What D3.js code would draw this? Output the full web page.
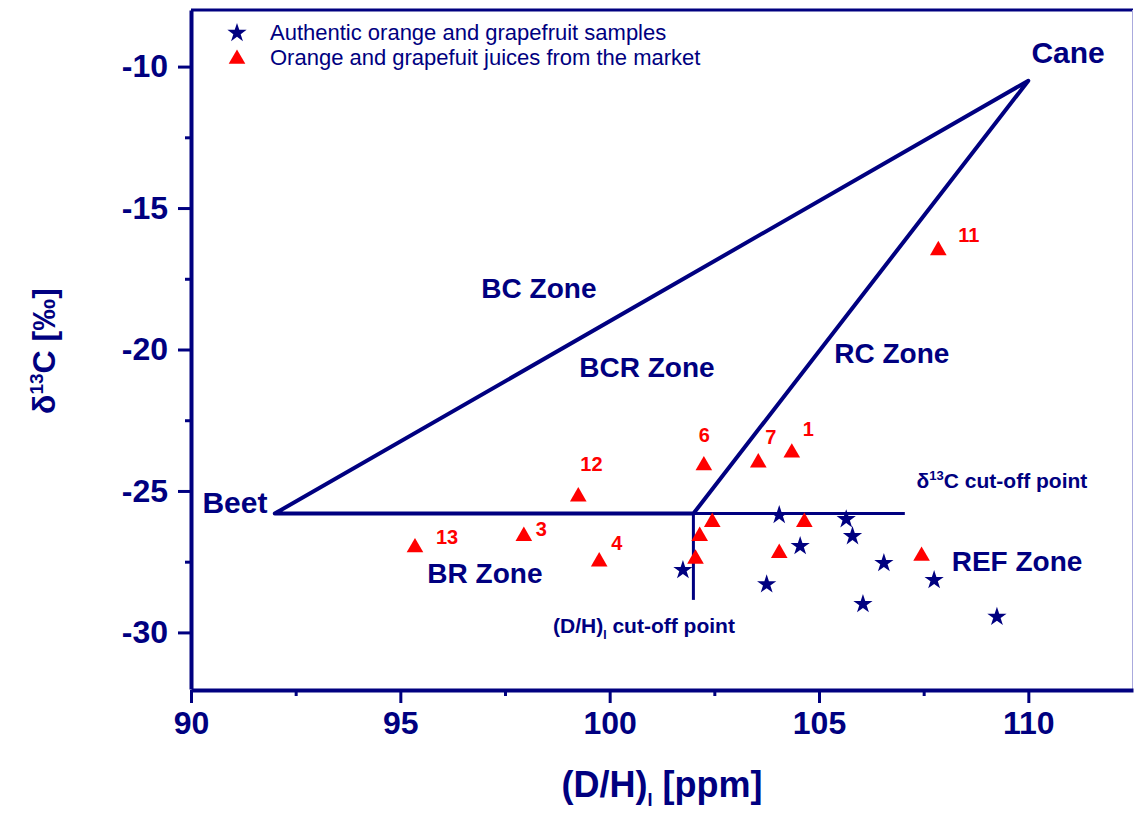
<!DOCTYPE html>
<html>
<head>
<meta charset="utf-8">
<script src="https://cdn.jsdelivr.net/npm/d3@7"></script>
<style>
  body { margin: 0; background: #fff; }
  text { font-family: "Liberation Sans", Arial, sans-serif; }
</style>
</head>
<body>
<div id="chart"></div>
<script>
// Data
var xTicks = [90, 95, 100, 105, 110];
var xMinor = [92.5, 97.5, 102.5, 107.5];
var yTicks = [-30, -25, -20, -15, -10];
var yMinor = [-27.5, -22.5, -17.5, -12.5];

// authentic samples (D/H, d13C)
var authenticX = [101.75, 103.75, 104.05, 104.55, 105.65, 105.8, 106.05, 106.55, 107.75, 109.25];
var authenticY = [-27.8, -28.3, -25.85, -26.95, -26.0, -26.6, -29.0, -27.55, -28.15, -29.45];

// market juices
var marketId = ["1", "3", "4", "6", "7", "11", "12", "13", "", "", "", "", "", ""];
var marketX = [104.35, 97.95, 99.75, 102.25, 103.55, 107.85, 99.25, 95.35, 102.45, 102.15, 102.05, 104.65, 104.05, 107.45];
var marketY = [-23.65, -26.6, -27.5, -24.1, -24.0, -16.5, -25.2, -27.0, -26.1, -26.6, -27.4, -26.1, -27.2, -27.3];

// zone triangle and cut-off lines
var beet = [92, -25.8];
var cane = [110, -10.5];
var dhCut = 102;
var cCut = -25.8;
var cCutEnd = 107.05;
var dhCutEnd = -28.85;

var zoneNames = ["Cane", "Beet", "BC Zone", "BCR Zone", "RC Zone", "BR Zone", "REF Zone"];
var zoneX = [110.95, 91.05, 98.31, 100.89, 106.74, 97.02, 109.73];
var zoneY = [-9.88, -25.77, -18.19, -20.96, -20.46, -28.25, -27.82];

var navy = "#000080", red = "#ff0000";

var W = 1134, H = 814;
var svg = d3.select("#chart").append("svg")
    .attr("width", W).attr("height", H)
    .style("background", "#fff");

var x = d3.scaleLinear().domain([90, 112.5]).range([191, 1133]);
var y = d3.scaleLinear().domain([-32, -8]).range([689, 10]);

// frame: top and right
svg.append("line").attr("x1", 191).attr("x2", 1133).attr("y1", 10).attr("y2", 10)
    .attr("stroke", navy).attr("stroke-width", 3);
svg.append("line").attr("x1", 1132.5).attr("x2", 1132.5).attr("y1", 10).attr("y2", 689)
    .attr("stroke", "#aaaadd").attr("stroke-width", 1);

// axes
function styleAxis(g) {
    g.select(".domain").attr("stroke", navy).attr("stroke-width", 4);
    g.selectAll(".tick line").attr("stroke", navy).attr("stroke-width", 3);
    g.selectAll(".tick text").attr("fill", navy)
        .style("font-size", "32px").style("font-weight", "bold");
}

var xAxis = svg.append("g").attr("transform", "translate(0,690)")
    .call(d3.axisBottom(x).tickValues(xTicks).tickSize(13).tickSizeOuter(0).tickPadding(8));
styleAxis(xAxis);
var xAxisMinor = svg.append("g").attr("transform", "translate(0,690)")
    .call(d3.axisBottom(x).tickValues(xMinor).tickSize(6).tickFormat(""));
xAxisMinor.select(".domain").remove();
xAxisMinor.selectAll(".tick line").attr("stroke", navy).attr("stroke-width", 3);

var yAxis = svg.append("g").attr("transform", "translate(191,0)")
    .call(d3.axisLeft(y).tickValues(yTicks).tickFormat(d => String(d))
        .tickSize(13).tickSizeOuter(0).tickPadding(10));
styleAxis(yAxis);
var yAxisMinor = svg.append("g").attr("transform", "translate(191,0)")
    .call(d3.axisLeft(y).tickValues(yMinor).tickSize(6).tickFormat(""));
yAxisMinor.select(".domain").remove();
yAxisMinor.selectAll(".tick line").attr("stroke", navy).attr("stroke-width", 3);

// axis titles
var yt = svg.append("text")
    .attr("transform", "translate(55,351) rotate(-90)")
    .attr("text-anchor", "middle")
    .attr("fill", navy).style("font-size", "32px").style("font-weight", "bold");
yt.append("tspan").text("δ");
yt.append("tspan").attr("dy", -12).style("font-size", "19px").text("13");
yt.append("tspan").attr("dy", 12).text("C [‰]");

var xt = svg.append("text")
    .attr("x", 662).attr("y", 797)
    .attr("text-anchor", "middle")
    .attr("fill", navy).style("font-size", "36px").style("font-weight", "bold");
xt.append("tspan").text("(D/H)");
xt.append("tspan").attr("dy", 9).style("font-size", "18px").text("I");
xt.append("tspan").attr("dy", -9).text(" [ppm]");

// zone triangle
var line = d3.line().x(d => x(d[0])).y(d => y(d[1]));
svg.append("path")
    .attr("d", line([beet, cane, [dhCut, cCut]]) + "Z")
    .attr("fill", "none").attr("stroke", navy).attr("stroke-width", 4)
    .attr("stroke-linejoin", "round");
svg.append("path")
    .attr("d", line([[dhCut, cCut], [cCutEnd, cCut]]))
    .attr("fill", "none").attr("stroke", navy).attr("stroke-width", 3);
svg.append("path")
    .attr("d", line([[dhCut, cCut], [dhCut, dhCutEnd]]))
    .attr("fill", "none").attr("stroke", navy).attr("stroke-width", 3);

// zone labels
zoneNames.forEach(function(name, i) {
    var big = (name === "Cane" || name === "Beet");
    svg.append("text")
        .attr("x", x(zoneX[i])).attr("y", y(zoneY[i]))
        .attr("text-anchor", "middle")
        .attr("fill", navy)
        .style("font-size", big ? "30px" : "28px").style("font-weight", "bold")
        .text(name);
});

// cut-off labels
var c1 = svg.append("text").attr("x", x(109.37)).attr("y", y(-24.88))
    .attr("text-anchor", "middle").attr("fill", navy)
    .style("font-size", "21px").style("font-weight", "bold");
c1.append("tspan").text("δ");
c1.append("tspan").attr("dy", -8).style("font-size", "13px").text("13");
c1.append("tspan").attr("dy", 8).text("C cut-off point");

var c2 = svg.append("text").attr("x", x(100.82)).attr("y", y(-30.02))
    .attr("text-anchor", "middle").attr("fill", navy)
    .style("font-size", "21px").style("font-weight", "bold");
c2.append("tspan").text("(D/H)");
c2.append("tspan").attr("dy", 6).style("font-size", "12px").text("I");
c2.append("tspan").attr("dy", -6).text(" cut-off point");

// points
var authentic = authenticX.map((v, i) => ({x: v, y: authenticY[i]}));
var market = marketX.map((v, i) => ({id: marketId[i], x: v, y: marketY[i]}));

var star = d3.symbol().type(d3.symbolStar).size(115);
var tri = d3.symbol().type(d3.symbolTriangle).size(120);

svg.append("g").selectAll("path")
    .data(authentic).enter().append("path")
    .attr("d", star)
    .attr("transform", d => "translate(" + x(d.x) + "," + y(d.y) + ")")
    .attr("fill", navy);

svg.append("g").selectAll("path")
    .data(market).enter().append("path")
    .attr("d", tri)
    .attr("transform", d => "translate(" + x(d.x) + "," + y(d.y) + ")")
    .attr("fill", red);

// number labels next to the market samples
var labelOffset = {"1": [11, -17], "3": [12, 0], "4": [12, -12], "6": [-5, -23],
    "7": [7, -19], "11": [20, -8], "12": [2, -26], "13": [21, -4]};
svg.append("g").selectAll("text")
    .data(market.filter(d => d.id !== "")).enter().append("text")
    .attr("x", d => x(d.x) + labelOffset[d.id][0])
    .attr("y", d => y(d.y) + labelOffset[d.id][1])
    .attr("fill", red)
    .style("font-size", "20px").style("font-weight", "bold")
    .text(d => d.id);

// legend
var legend = svg.append("g");
legend.append("path").attr("d", star).attr("transform", "translate(237,33)").attr("fill", navy);
legend.append("path").attr("d", tri).attr("transform", "translate(237,59)").attr("fill", red);
legend.append("text").attr("x", 270).attr("y", 40).attr("fill", navy)
    .style("font-size", "22px").text("Authentic orange and grapefruit samples");
legend.append("text").attr("x", 270).attr("y", 65).attr("fill", navy)
    .style("font-size", "22px").text("Orange and grapefuit juices from the market");
</script>
</body>
</html>
